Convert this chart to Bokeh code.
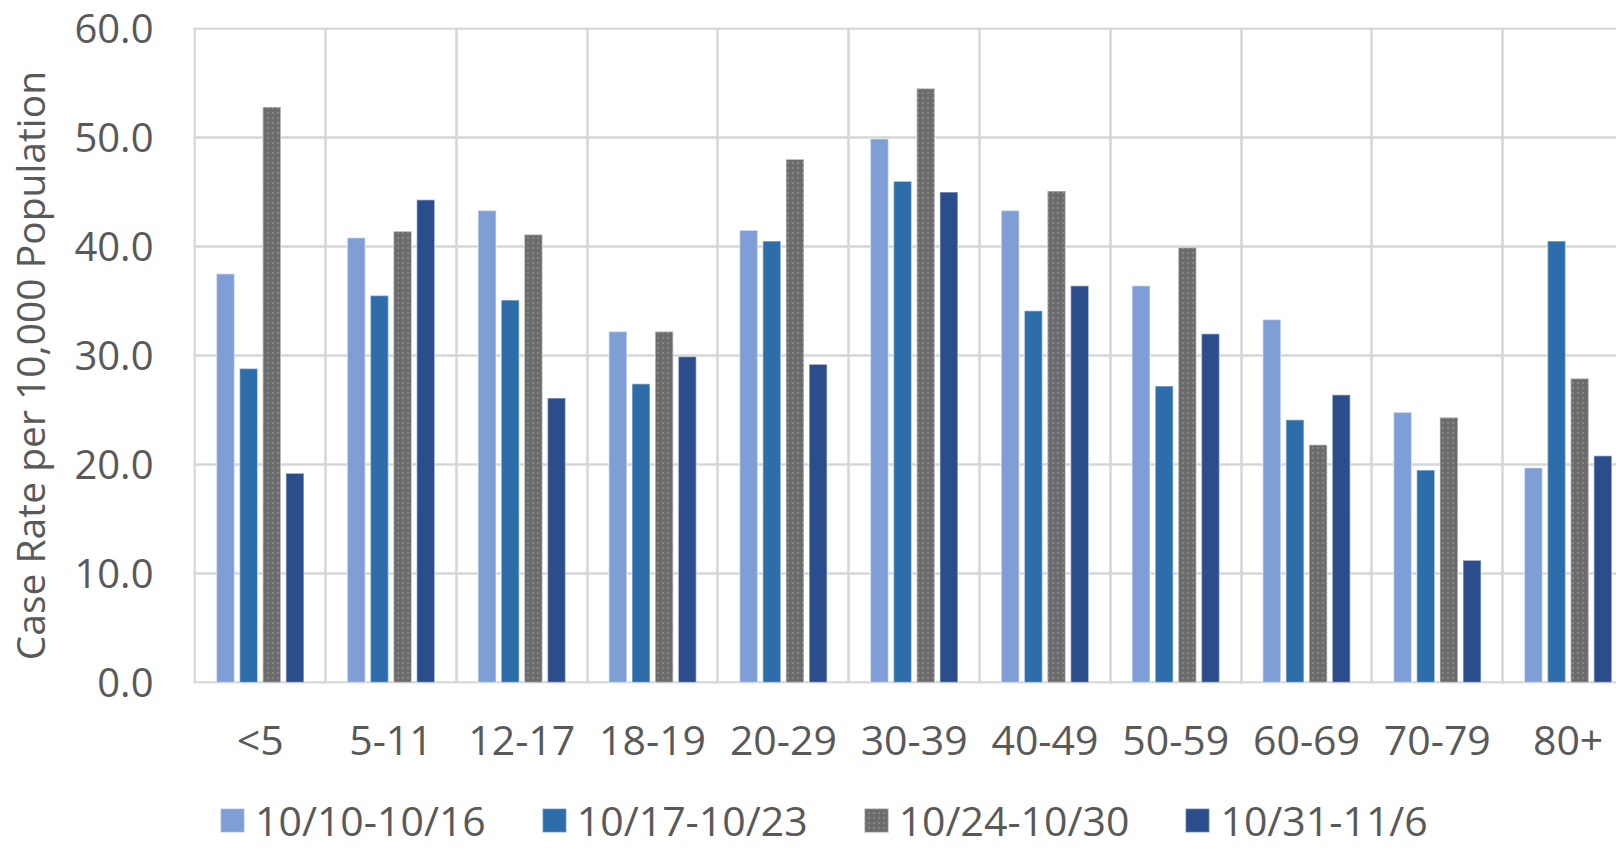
from bokeh.plotting import figure
from bokeh.layouts import column
from bokeh.models import (Range1d, FixedTicker, Grid, Legend, LegendItem,
                          ColumnDataSource, PrintfTickFormatter)
from bokeh.embed import file_html
from bokeh.resources import INLINE

categories = ["<5", "5-11", "12-17", "18-19", "20-29", "30-39", "40-49",
              "50-59", "60-69", "70-79", "80+"]
series_names = ["10/10-10/16", "10/17-10/23", "10/24-10/30", "10/31-11/6"]
wk1 = [37.5, 40.8, 43.3, 32.2, 41.5, 49.9, 43.3, 36.4, 33.3, 24.8, 19.7]
wk2 = [28.8, 35.5, 35.1, 27.4, 40.5, 46.0, 34.1, 27.2, 24.1, 19.5, 40.5]
wk3 = [52.8, 41.4, 41.1, 32.2, 48.0, 54.5, 45.1, 39.9, 21.8, 24.3, 27.9]
wk4 = [19.2, 44.3, 26.1, 29.9, 29.2, 45.0, 36.4, 32.0, 26.4, 11.2, 20.8]
y_ticks = [0, 10, 20, 30, 40, 50, 60]
y_title = "Case Rate per 10,000 Population"

colors = ["#7F9ED5", "#2D6DA9", "#6B6B6B", "#2C4D8B"]
FONT = "Open Sans"
TXT = "#595959"
GRID = "#d6d6d6"

MAIN_H = 782
p = figure(width=1616, height=MAIN_H, output_backend="svg", toolbar_location=None,
           x_range=Range1d(-0.51, 10.37), y_range=Range1d(-0.1, 60.1),
           min_border_left=192, min_border_right=0, min_border_top=27,
           min_border_bottom=MAIN_H - 27 - 656)
p.outline_line_color = None
p.background_fill_color = "white"
p.border_fill_color = "white"

xs = list(range(len(categories)))
offsets = [-0.2655, -0.0885, 0.0885, 0.2655]
series = [wk1, wk2, wk3, wk4]


def bar_style(k):
    kw = dict(fill_color=colors[k], line_color="white", line_alpha=0.45, line_width=1.5)
    if k == 2:
        kw.update(hatch_pattern="dot", hatch_color="#858585", hatch_scale=5,
                  hatch_weight=1.2)
    return kw


for k, vals in enumerate(series):
    src = ColumnDataSource(dict(x=[x + offsets[k] for x in xs], top=vals))
    p.vbar(x="x", top="top", bottom=0, width=0.138, source=src, **bar_style(k))

# axes
p.xaxis.ticker = FixedTicker(ticks=xs)
p.xaxis.major_label_overrides = {i: c for i, c in enumerate(categories)}
p.xaxis.axis_line_color = None
p.xaxis.major_tick_line_color = None
p.xaxis.minor_tick_line_color = None
p.xaxis.major_tick_out = 0
p.xaxis.major_tick_in = 0
p.xaxis.major_label_text_font = FONT
p.xaxis.major_label_text_font_size = "41px"
p.xaxis.major_label_text_color = TXT
p.xaxis.major_label_standoff = 27

p.yaxis.ticker = FixedTicker(ticks=y_ticks)
p.yaxis.formatter = PrintfTickFormatter(format="%.1f")
p.yaxis.axis_line_color = None
p.yaxis.major_tick_line_color = None
p.yaxis.minor_tick_line_color = None
p.yaxis.major_tick_out = 0
p.yaxis.major_tick_in = 0
p.yaxis.major_label_text_font = FONT
p.yaxis.major_label_text_font_size = "40px"
p.yaxis.major_label_text_color = TXT
p.yaxis.major_label_standoff = 40
# two trailing no-break spaces nudge the centred title slightly downward, as in the reference
p.yaxis.axis_label = y_title + "\u00a0\u00a0"
p.yaxis.axis_label_text_font = FONT
p.yaxis.axis_label_text_font_size = "39px"
p.yaxis.axis_label_text_font_style = "normal"
p.yaxis.axis_label_text_color = TXT
p.yaxis.axis_label_standoff = 15

# grids
p.xgrid.visible = False
p.ygrid.grid_line_color = GRID
p.ygrid.grid_line_width = 2.5
p.add_layout(Grid(dimension=0, ticker=FixedTicker(ticks=[i - 0.5 for i in range(len(categories) + 1)]),
                  grid_line_color=GRID, grid_line_width=2.5))

# legend strip (separate figure below the chart; its frame aligns with the chart's)
q = figure(width=1616, height=848 - MAIN_H, output_backend="svg", toolbar_location=None,
           x_range=Range1d(0, 1), y_range=Range1d(0, 1), x_axis_type=None, y_axis_type=None,
           min_border=0, min_border_left=0, min_border_right=0, min_border_top=0,
           min_border_bottom=0)
q.outline_line_color = None
q.grid.visible = False
items = []
for k, name in enumerate(series_names):
    # zero-height proxy bar: only provides the legend swatch
    r = q.vbar(x=[0], top=[0], bottom=0, width=0.001, **bar_style(k))
    items.append(LegendItem(label=name, renderers=[r]))
legend = Legend(items=items, orientation="horizontal", location=(24, 0),
                padding=0, margin=0, border_line_color=None, background_fill_alpha=0,
                glyph_width=30, glyph_height=30, label_standoff=8, spacing=53,
                label_text_font=FONT, label_text_font_size="41px", label_text_color=TXT)
q.add_layout(legend, "center")

layout = column(p, q, spacing=0)
open("out.html", "w").write(file_html(layout, INLINE))
